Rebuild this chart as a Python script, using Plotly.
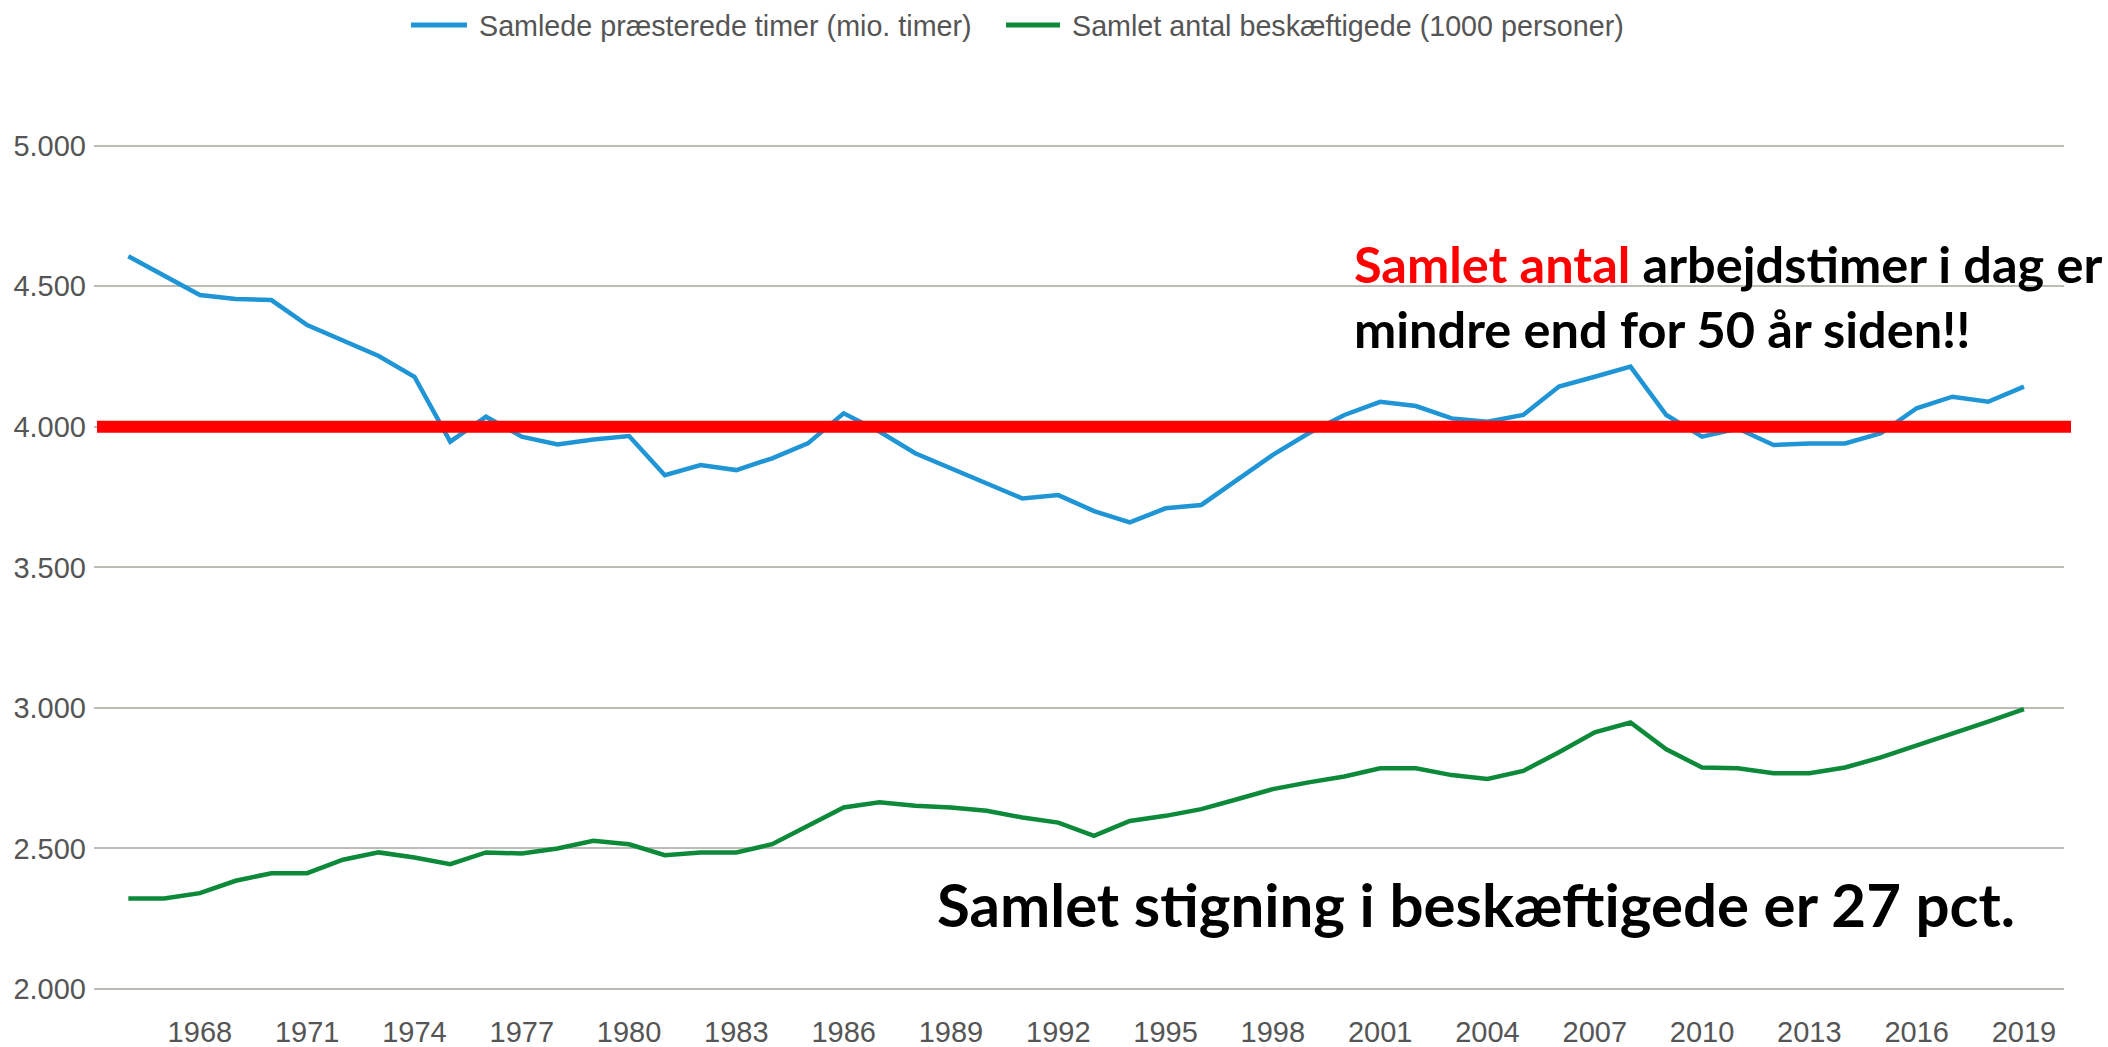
import plotly.graph_objects as go

years = list(range(1966, 2020))

hours = [4607, 4536, 4469, 4455, 4451, 4362, 4309, 4252, 4178, 3947,
         4036, 3965, 3937, 3955, 3967, 3828, 3864, 3846, 3888, 3941,
         4048, 3983, 3906, 3852, 3799, 3745, 3757, 3700, 3660, 3710,
         3722, 3811, 3900, 3977, 4042, 4089, 4074, 4030, 4018, 4042,
         4143, 4178, 4214, 4042, 3965, 3994, 3935, 3941, 3941, 3977,
         4066, 4107, 4089, 4143]

employed = [2322, 2322, 2341, 2385, 2412, 2412, 2460, 2486, 2468, 2444,
            2486, 2482, 2500, 2527, 2515, 2476, 2486, 2486, 2515, 2581,
            2646, 2664, 2652, 2646, 2634, 2610, 2592, 2545, 2598, 2616,
            2640, 2675, 2711, 2735, 2756, 2785, 2785, 2761, 2747, 2776,
            2842, 2913, 2948, 2853, 2788, 2785, 2768, 2768, 2788, 2824,
            2865, 2907, 2951, 2996]

series_names = ["Samlede præsterede timer (mio. timer)",
                "Samlet antal beskæftigede (1000 personer)"]
series_colors = ["#1f95d6", "#0c8a3a"]
reference_level = 4000
y_ticks = [2000, 2500, 3000, 3500, 4000, 4500, 5000]

W, H = 2108, 1047
L, R, T, B = 94, 44, 130, 47
PW, PH = W - L - R, H - T - B


def px(x):
    return (x - L) / PW


def py(y):
    return (H - B - y) / PH


axis_font = dict(family="Liberation Sans, Arial, sans-serif", size=29, color="#555555")
legend_font = dict(family="Liberation Sans, Arial, sans-serif", size=28.7, color="#555555")
bold_font = "Lato, Calibri, Carlito, sans-serif"

fig = go.Figure()
fig.add_trace(go.Scatter(x=years, y=hours, mode="lines", name=series_names[0],
                         line=dict(color=series_colors[0], width=4.5), showlegend=False))
fig.add_trace(go.Scatter(x=years, y=employed, mode="lines", name=series_names[1],
                         line=dict(color=series_colors[1], width=4.5), showlegend=False))

shapes = [
    dict(type="line", xref="paper", yref="y", x0=px(97), x1=px(2071),
         y0=reference_level, y1=reference_level, line=dict(color="#ff0000", width=12)),
    dict(type="line", xref="paper", yref="paper", x0=px(411), x1=px(467),
         y0=py(25), y1=py(25), line=dict(color=series_colors[0], width=5)),
    dict(type="line", xref="paper", yref="paper", x0=px(1006), x1=px(1060),
         y0=py(25), y1=py(25), line=dict(color=series_colors[1], width=5)),
]

annotations = [
    dict(xref="paper", yref="paper", x=px(477), y=py(26), xanchor="left", yanchor="middle",
         text=series_names[0], showarrow=False, font=legend_font),
    dict(xref="paper", yref="paper", x=px(1070), y=py(26), xanchor="left", yanchor="middle",
         text=series_names[1], showarrow=False, font=legend_font),
    dict(xref="paper", yref="paper", x=px(1352), y=py(263), xanchor="left", yanchor="middle",
         text='<span style="color:#ff0000">Samlet antal</span> arbejdstimer i dag er',
         showarrow=False, font=dict(family=bold_font, size=50.5, color="#000000", weight="bold")),
    dict(xref="paper", yref="paper", x=px(1352), y=py(328), xanchor="left", yanchor="middle",
         text="mindre end for 50 år siden!!",
         showarrow=False, font=dict(family=bold_font, size=50.5, color="#000000", weight="bold")),
    dict(xref="paper", yref="paper", x=px(935), y=py(904), xanchor="left", yanchor="middle",
         text="Samlet stigning i beskæftigede er 27 pct.",
         showarrow=False, font=dict(family=bold_font, size=60, color="#000000", weight="bold")),
]

fig.update_layout(
    width=W, height=H,
    margin=dict(l=L, r=R, t=T, b=B, pad=0, autoexpand=False),
    paper_bgcolor="white", plot_bgcolor="white",
    separators=",.",
    showlegend=False,
    shapes=shapes,
    annotations=annotations,
    xaxis=dict(range=[1965.04, 2020.12], tickmode="linear", tick0=1968, dtick=3,
               showgrid=False, zeroline=False, showline=False, ticks="",
               tickfont=axis_font, ticklabelstandoff=12, automargin=False),
    yaxis=dict(range=[1960.9, 5055.9], tickvals=y_ticks, tickformat=",d",
               showgrid=True, gridcolor="#bcbcb4", gridwidth=2, zeroline=False,
               showline=False, ticks="", tickfont=axis_font, ticklabelstandoff=7,
               automargin=False),
)

fig.write_html("out.html",
               config={"displayModeBar": False},
               post_script="document.body.style.margin='0px';document.body.style.overflow='hidden';")
